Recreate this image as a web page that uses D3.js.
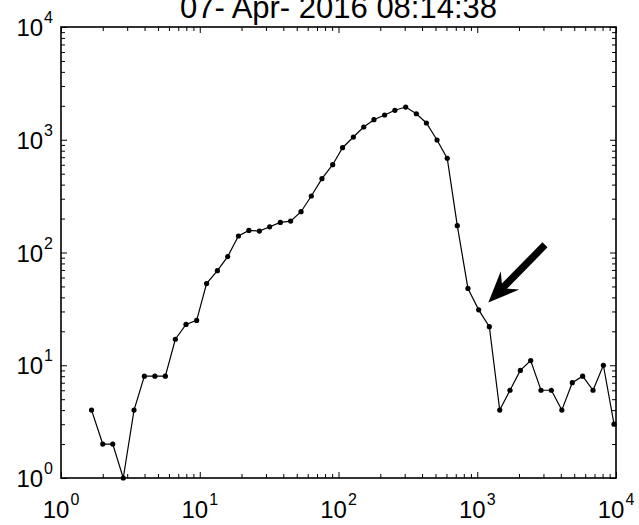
<!DOCTYPE html>
<html>
<head>
<meta charset="utf-8">
<script src="https://cdn.jsdelivr.net/npm/d3@7"></script>
<style>
  html, body { margin: 0; padding: 0; background: #fff; }
  svg { display: block; }
  text { font-family: "Liberation Sans", Arial, Helvetica, sans-serif; fill: #000; }
</style>
</head>
<body>
<svg id="chart" width="639" height="525"></svg>
<script>
// ---- data ----
const titleText = "07- Apr- 2016 08:14:38";
const xValues = [1.66, 2.0, 2.36, 2.81, 3.36, 3.99, 4.75, 5.65, 6.67, 7.96,
  9.5, 11.2, 13.4, 15.9, 19.0, 22.6, 26.9, 31.9, 38.1, 45.2,
  53.7, 63.7, 76, 90.8, 107, 128, 152, 180, 215, 255,
  305, 364, 430, 513, 608, 718, 857, 1024, 1222, 1452,
  1722, 2044, 2427, 2880, 3420, 4070, 4840, 5750, 6830, 8110, 9680];
const yValues = [4, 2, 2, 1, 4, 8, 8, 8, 17, 23,
  25, 53, 69, 92, 140, 157, 155, 169, 185, 190,
  230, 317, 452, 601, 850, 1057, 1297, 1506, 1657, 1825,
  1950, 1700, 1408, 995, 684, 173, 48, 31, 22, 4,
  6, 9, 11, 6, 6, 4, 7, 8, 6, 10, 3];
const xDomain = [1, 1e4];
const yDomain = [1, 1e4];
const majorExponents = [0, 1, 2, 3, 4];
const arrowTail = [3077, 117];   // data coords
const arrowTip = [1202, 36];     // data coords

// ---- layout ----
const L = 61, R = 616, T = 27, B = 478;
const svg = d3.select("#chart");
const xs = d3.scaleLog().domain(xDomain).range([L, R]);
const ys = d3.scaleLog().domain(yDomain).range([B, T]);

const majors = majorExponents.map(e => Math.pow(10, e));
const minorsX = [], minorsY = [];
for (let e = 0; e < 4; e++) for (let m = 2; m <= 9; m++) {
  minorsX.push(m * Math.pow(10, e));
  minorsY.push(m * Math.pow(10, e));
}

function styleAxis(g) {
  g.select(".domain").remove();
  g.selectAll(".tick line").attr("stroke", "#000").attr("stroke-width", 1);
  g.selectAll(".tick text").remove();
}
// bottom / top
svg.append("g").attr("transform", `translate(0,${B})`)
  .call(d3.axisBottom(xs).tickValues(majors).tickSize(-6).tickFormat("")).call(styleAxis);
svg.append("g").attr("transform", `translate(0,${B})`)
  .call(d3.axisBottom(xs).tickValues(minorsX).tickSize(-4).tickFormat("")).call(styleAxis);
svg.append("g").attr("transform", `translate(0,${T})`)
  .call(d3.axisTop(xs).tickValues(majors).tickSize(-6).tickFormat("")).call(styleAxis);
svg.append("g").attr("transform", `translate(0,${T})`)
  .call(d3.axisTop(xs).tickValues(minorsX).tickSize(-4).tickFormat("")).call(styleAxis);
// left / right
svg.append("g").attr("transform", `translate(${L},0)`)
  .call(d3.axisLeft(ys).tickValues(majors).tickSize(-6).tickFormat("")).call(styleAxis);
svg.append("g").attr("transform", `translate(${L},0)`)
  .call(d3.axisLeft(ys).tickValues(minorsY).tickSize(-4).tickFormat("")).call(styleAxis);
svg.append("g").attr("transform", `translate(${R},0)`)
  .call(d3.axisRight(ys).tickValues(majors).tickSize(-6).tickFormat("")).call(styleAxis);
svg.append("g").attr("transform", `translate(${R},0)`)
  .call(d3.axisRight(ys).tickValues(minorsY).tickSize(-4).tickFormat("")).call(styleAxis);

// box
svg.append("rect").attr("x", L).attr("y", T).attr("width", R - L).attr("height", B - T)
  .attr("fill", "none").attr("stroke", "#000").attr("stroke-width", 1.6);

// tick labels with superscripts
const fsMain = 24, fsSup = 16;
majorExponents.forEach(e => {
  const v = Math.pow(10, e);
  // x labels
  const tx = svg.append("text").attr("x", xs(v)).attr("y", B + 40)
    .attr("text-anchor", "middle").style("font-size", fsMain + "px");
  tx.append("tspan").text("10");
  tx.append("tspan").attr("dy", -13).attr("dx", 1).style("font-size", fsSup + "px").text(e);
  // y labels
  const ty = svg.append("text").attr("x", 53).attr("y", ys(v) + 9)
    .attr("text-anchor", "end").style("font-size", fsMain + "px");
  ty.append("tspan").text("10");
  ty.append("tspan").attr("dy", -13).attr("dx", 1).style("font-size", fsSup + "px").text(e);
});

// title
svg.append("text").attr("x", (L + R) / 2).attr("y", 18)
  .attr("text-anchor", "middle").style("font-size", "31px").text(titleText);

// series
const pts = xValues.map((x, i) => [x, yValues[i]]);
svg.append("path").datum(pts)
  .attr("d", d3.line().x(d => xs(d[0])).y(d => ys(d[1])))
  .attr("fill", "none").attr("stroke", "#000").attr("stroke-width", 1.2);
svg.selectAll("circle.pt").data(pts).enter().append("circle")
  .attr("class", "pt").attr("cx", d => xs(d[0])).attr("cy", d => ys(d[1]))
  .attr("r", 2.6).attr("fill", "#000");

// arrow annotation
(function () {
  const x0 = xs(arrowTail[0]), y0 = ys(arrowTail[1]);
  const x1 = xs(arrowTip[0]), y1 = ys(arrowTip[1]);
  const len = Math.hypot(x1 - x0, y1 - y0);
  const ang = Math.atan2(y1 - y0, x1 - x0) * 180 / Math.PI;
  const hl = 31, hw = 13, sw = 3.6, notch = 23;
  const shape = [
    [0, -sw], [len - notch, -sw], [len - hl, -hw], [len, 0],
    [len - hl, hw], [len - notch, sw], [0, sw]
  ];
  svg.append("path")
    .attr("transform", `translate(${x0},${y0}) rotate(${ang})`)
    .attr("d", "M" + shape.map(p => p.join(",")).join("L") + "Z")
    .attr("fill", "#000");
})();
</script>
</body>
</html>
